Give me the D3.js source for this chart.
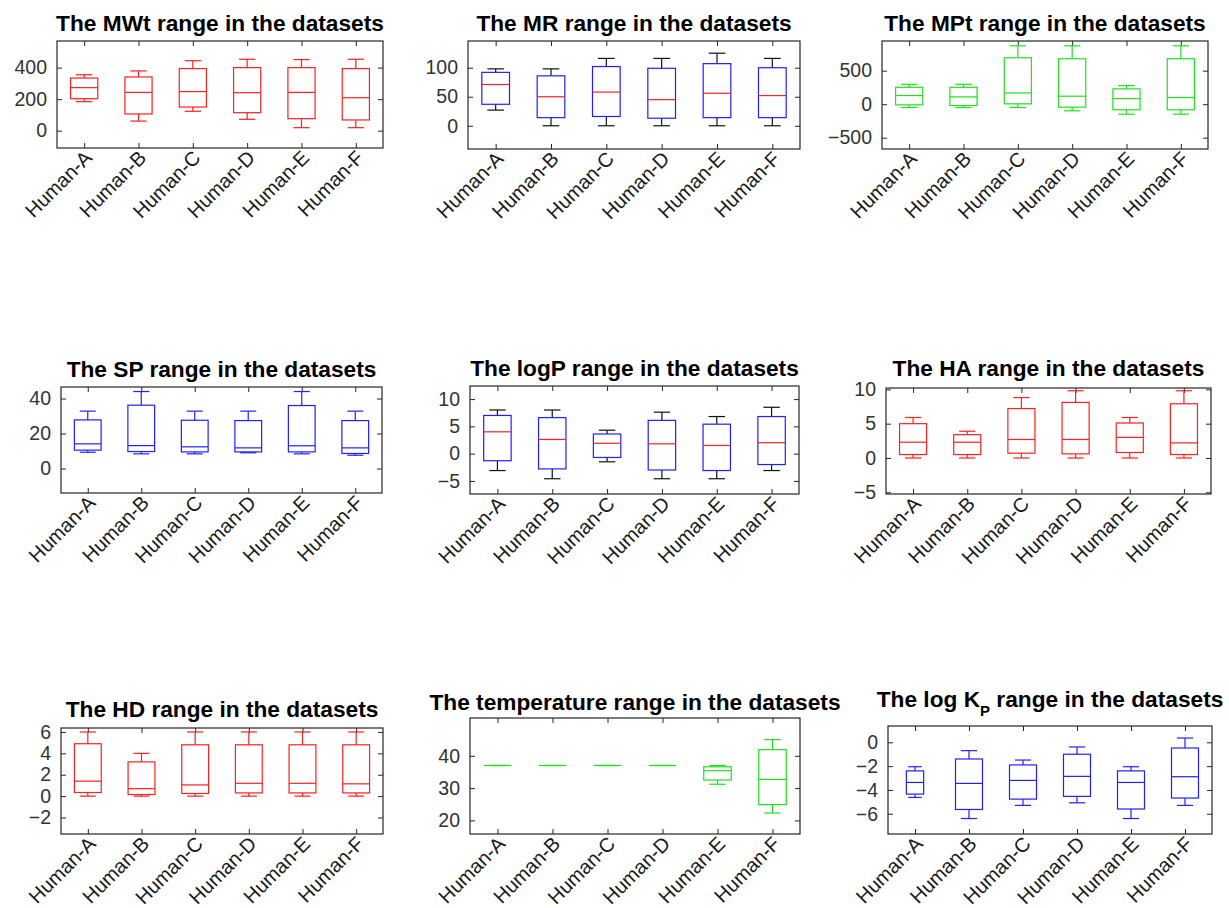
<!DOCTYPE html>
<html>
<head>
<meta charset="utf-8">
<script src="https://cdn.jsdelivr.net/npm/d3@7"></script>
<style>
  body { margin: 0; background: #fff; }
  text { font-family: "Liberation Sans", Arial, Helvetica, sans-serif; }
  .title { font-weight: bold; font-size: 22.7px; fill: #000; }
  .ylab { font-size: 19.5px; fill: #333; }
  .xlab { font-size: 20px; fill: #1a1a1a; }
</style>
</head>
<body>
<div id="chart"></div>
<script>
  const w = 1229;
  const h = 908;

  const categories = ['Human-A', 'Human-B', 'Human-C', 'Human-D', 'Human-E', 'Human-F'];

  // each box: [lower whisker, q1, median, q3, upper whisker]
  const mwt = [[184, 203, 273, 334, 355], [61, 106, 243, 341, 379], [123, 150, 248, 394, 444],
               [72, 114, 241, 400, 453], [19, 76, 243, 400, 451], [19, 68, 209, 394, 453]];
  const mr = [[27, 37, 71, 92, 98], [0, 14, 50, 86, 98], [0, 16, 58, 102, 116],
              [0, 13, 45, 99, 116], [0, 14, 56, 107, 125], [0, 14, 52, 100, 116]];
  const mpt = [[-50, -10, 129, 252, 297], [-50, -20, 109, 252, 297], [-50, 5, 168, 693, 871],
               [-99, -45, 119, 678, 871], [-149, -84, 84, 228, 277], [-149, -84, 99, 678, 871]];
  const sp = [[9.3, 10.5, 14.1, 27.8, 32.8], [8.4, 9.7, 13.1, 36.2, 44], [8.4, 9.5, 12.4, 27.6, 32.8],
              [9.0, 9.5, 11.8, 27.4, 32.8], [8.4, 9.5, 13.0, 36.0, 44], [7.6, 8.6, 11.8, 27.4, 32.8]];
  const logp = [[-3.1, -1.3, 4.0, 7.0, 8.0], [-4.6, -2.8, 2.6, 6.6, 8.0], [-1.5, -0.7, 1.9, 3.6, 4.3],
                [-4.6, -3.0, 1.8, 6.1, 7.6], [-4.6, -3.1, 1.5, 5.4, 6.8], [-3.1, -2.0, 2.0, 6.8, 8.5]];
  const ha = [[0, 0.5, 2.3, 5.0, 5.9], [0, 0.5, 2.3, 3.4, 3.9], [0, 0.7, 2.7, 7.2, 8.8],
              [0, 0.6, 2.7, 8.1, 9.8], [0, 0.8, 3.0, 5.1, 5.9], [0, 0.5, 2.2, 7.9, 9.8]];
  const hd = [[0, 0.34, 1.4, 4.9, 6], [0, 0.15, 0.7, 3.2, 4], [0, 0.25, 1.05, 4.8, 6],
              [0, 0.3, 1.2, 4.8, 6], [0, 0.3, 1.2, 4.8, 6], [0, 0.3, 1.15, 4.8, 6]];
  const temperature = [[37, 37, 37, 37, 37], [37, 37, 37, 37, 37], [37, 37, 37, 37, 37],
                       [37, 37, 37, 37, 37], [31.2, 32.5, 35.4, 36.6, 37.0], [22.3, 24.9, 32.7, 41.9, 45]];
  const logkp = [[-4.63, -4.35, -3.37, -2.4, -2.05], [-6.4, -5.64, -3.45, -1.4, -0.7], [-5.3, -4.77, -3.2, -1.9, -1.49],
                 [-5.08, -4.54, -2.86, -1.0, -0.39], [-6.4, -5.6, -3.37, -2.4, -2.05], [-5.3, -4.68, -2.89, -0.48, 0.36]];

  const titles = ['The MWt range in the datasets', 'The MR range in the datasets', 'The MPt range in the datasets',
                  'The SP range in the datasets', 'The logP range in the datasets', 'The HA range in the datasets',
                  'The HD range in the datasets', 'The temperature range in the datasets', null];

  const yTicks = [[0, 200, 400], [0, 50, 100], [-500, 0, 500],
                  [0, 20, 40], [-5, 0, 5, 10], [-5, 0, 5, 10],
                  [-2, 0, 2, 4, 6], [20, 30, 40], [-6, -4, -2, 0]];

  const series = [mwt, mr, mpt, sp, logp, ha, hd, temperature, logkp];

  const red = '#ff2020', blue = '#2020ff', green = '#20e020', black = '#111';
  // box, median, whisker colours
  const colors = [[red, red, red], [blue, red, black], [green, green, green],
                  [blue, blue, blue], [blue, red, black], [red, red, red],
                  [red, red, red], [green, green, green], [blue, blue, blue]];

  // axes boxes: left, right, top, bottom, y-domain, title baseline
  const layout = [
    {l: 57, r: 383, t: 41, b: 148, dom: [-110, 569], ty: 31},
    {l: 468, r: 800, t: 41, b: 149, dom: [-40, 146], ty: 31},
    {l: 882, r: 1208, t: 41, b: 149, dom: [-669, 943], ty: 31},
    {l: 61, r: 382, t: 387, b: 493, dom: [-14, 46.6], ty: 377},
    {l: 470, r: 799, t: 386, b: 494, dom: [-7.4, 12.4], ty: 376},
    {l: 886, r: 1211, t: 388, b: 494, dom: [-5.25, 10.2], ty: 376},
    {l: 61, r: 383, t: 728, b: 834, dom: [-3.54, 6.37], ty: 717},
    {l: 470, r: 800, t: 718, b: 834, dom: [15.8, 51.7], ty: 710},
    {l: 888, r: 1212, t: 726, b: 834, dom: [-7.7, 1.37], ty: 707}
  ];

  const tickLen = 5;
  const frameColor = '#262626';
  // box and cap widths in category units; the first log Kp box is drawn narrower
  const boxWidth = (p, i) => (p === 8 && i === 0) ? 0.32 : 0.5;
  const capWidth = (p, i) => (p === 8 && i === 0) ? 0.25 : 0.3;

  const svg = d3.select('#chart')
    .append('svg')
      .attr('width', w)
      .attr('height', h)
      .style('background', '#fff');

  layout.forEach((L, p) => {
    const x = d3.scaleLinear().domain([0.5, 6.5]).range([L.l, L.r]);
    const y = d3.scaleLinear().domain(L.dom).range([L.b, L.t]);
    const g = svg.append('g');
    const [boxC, medC, whC] = colors[p];

    // frame
    g.append('rect')
      .attr('x', L.l).attr('y', L.t)
      .attr('width', L.r - L.l).attr('height', L.b - L.t)
      .attr('fill', 'none')
      .attr('stroke', frameColor)
      .attr('stroke-width', 1.2);

    // inward ticks on all four sides
    const ticks = (axis, tx, ty) => g.append('g')
      .attr('transform', `translate(${tx},${ty})`)
      .call(axis)
      .call(a => a.select('.domain').remove())
      .call(a => a.selectAll('line').attr('stroke', frameColor));

    ticks(d3.axisLeft(y).tickValues(yTicks[p]).tickSize(-tickLen).tickPadding(10), L.l, 0)
      .call(a => a.selectAll('text').attr('class', 'ylab'));
    ticks(d3.axisRight(y).tickValues(yTicks[p]).tickSize(-tickLen).tickFormat(''), L.r, 0);
    ticks(d3.axisBottom(x).tickValues(d3.range(1, 7)).tickSize(-tickLen).tickFormat(''), 0, L.b);
    ticks(d3.axisTop(x).tickValues(d3.range(1, 7)).tickSize(-tickLen).tickFormat(''), 0, L.t);
    g.selectAll('g.tick text').attr('fill', null);
    g.selectAll('g[font-size]').attr('font-size', null).attr('font-family', null);

    // rotated category labels
    g.selectAll('text.xlab')
      .data(categories)
      .enter().append('text')
        .attr('class', 'xlab')
        .attr('text-anchor', 'end')
        .attr('transform', (d, i) => `translate(${x(i + 1) + 9},${L.b + 11}) rotate(-45)`)
        .text(d => d);

    // boxes
    const boxes = g.selectAll('g.box')
      .data(series[p])
      .enter().append('g')
        .attr('class', 'box')
        .attr('fill', 'none')
        .attr('stroke-width', 1.2);

    const cx = (i) => x(i + 1);
    const half = (u) => x(1 + u / 2) - x(1);

    // whiskers
    boxes.append('line')
      .attr('x1', (d, i) => cx(i)).attr('x2', (d, i) => cx(i))
      .attr('y1', d => y(d[3])).attr('y2', d => y(d[4]))
      .attr('stroke', whC);
    boxes.append('line')
      .attr('x1', (d, i) => cx(i)).attr('x2', (d, i) => cx(i))
      .attr('y1', d => y(d[0])).attr('y2', d => y(d[1]))
      .attr('stroke', whC);
    // caps
    boxes.append('line')
      .attr('x1', (d, i) => cx(i) - half(capWidth(p, i))).attr('x2', (d, i) => cx(i) + half(capWidth(p, i)))
      .attr('y1', d => y(d[4])).attr('y2', d => y(d[4]))
      .attr('stroke', whC);
    boxes.append('line')
      .attr('x1', (d, i) => cx(i) - half(capWidth(p, i))).attr('x2', (d, i) => cx(i) + half(capWidth(p, i)))
      .attr('y1', d => y(d[0])).attr('y2', d => y(d[0]))
      .attr('stroke', whC);
    // box
    boxes.append('rect')
      .attr('x', (d, i) => cx(i) - half(boxWidth(p, i)))
      .attr('width', (d, i) => half(boxWidth(p, i)) * 2)
      .attr('y', d => y(d[3]))
      .attr('height', d => y(d[1]) - y(d[3]))
      .attr('stroke', boxC);
    // median
    boxes.append('line')
      .attr('x1', (d, i) => cx(i) - half(boxWidth(p, i))).attr('x2', (d, i) => cx(i) + half(boxWidth(p, i)))
      .attr('y1', d => y(d[2])).attr('y2', d => y(d[2]))
      .attr('stroke', medC);

    // title
    const title = g.append('text')
      .attr('class', 'title')
      .attr('x', (L.l + L.r) / 2)
      .attr('y', L.ty)
      .attr('text-anchor', 'middle');
    if (titles[p]) {
      title.text(titles[p]);
    } else {
      title.append('tspan').text('The log K');
      title.append('tspan').attr('dy', 9).style('font-size', '15px').text('P');
      title.append('tspan').attr('dy', -9).text(' range in the datasets');
    }
  });
</script>
</body>
</html>
